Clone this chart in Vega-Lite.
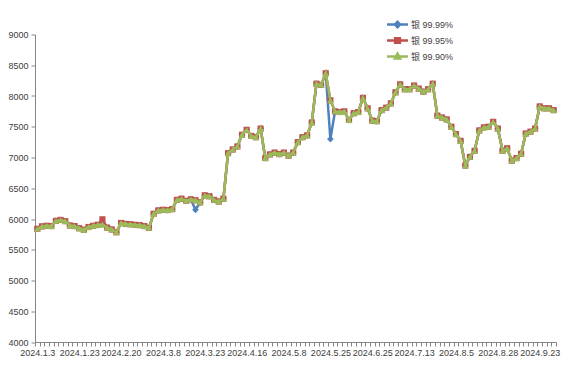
{
  "$schema": "https://vega.github.io/schema/vega-lite/v6.json",
  "width": 521,
  "height": 307.5,
  "autosize": {"type": "none"},
  "padding": {"left": 35, "top": 34.5, "right": 13, "bottom": 36},
  "background": "white",
  "config": {"view": {"stroke": null}, "font": "Liberation Sans"},
  "data": {"values": [
    {"d":"2024.1.3","a":5840,"b":5840,"c":5840},
    {"d":"2024.1.4","a":5880,"b":5880,"c":5880},
    {"d":"2024.1.5","a":5890,"b":5890,"c":5890},
    {"d":"2024.1.8","a":5885,"b":5885,"c":5885},
    {"d":"2024.1.10","a":5970,"b":5970,"c":5970},
    {"d":"2024.1.12","a":5985,"b":5985,"c":5985},
    {"d":"2024.1.16","a":5965,"b":5965,"c":5965},
    {"d":"2024.1.18","a":5895,"b":5895,"c":5895},
    {"d":"2024.1.22","a":5885,"b":5885,"c":5885},
    {"d":"2024.1.23","a":5850,"b":5850,"c":5850},
    {"d":"2024.1.25","a":5825,"b":5825,"c":5825},
    {"d":"2024.1.26","a":5870,"b":5870,"c":5870},
    {"d":"2024.1.29","a":5890,"b":5890,"c":5890},
    {"d":"2024.1.31","a":5905,"b":5905,"c":5905},
    {"d":"2024.2.1","a":5910,"b":5995,"c":5910},
    {"d":"2024.2.5","a":5860,"b":5860,"c":5860},
    {"d":"2024.2.7","a":5830,"b":5830,"c":5830},
    {"d":"2024.2.19","a":5785,"b":5785,"c":5785},
    {"d":"2024.2.20","a":5935,"b":5935,"c":5935},
    {"d":"2024.2.21","a":5920,"b":5920,"c":5920},
    {"d":"2024.2.23","a":5915,"b":5915,"c":5915},
    {"d":"2024.2.26","a":5905,"b":5905,"c":5905},
    {"d":"2024.2.27","a":5900,"b":5900,"c":5900},
    {"d":"2024.2.29","a":5885,"b":5885,"c":5885},
    {"d":"2024.3.1","a":5855,"b":5855,"c":5855},
    {"d":"2024.3.5","a":6085,"b":6085,"c":6085},
    {"d":"2024.3.6","a":6140,"b":6140,"c":6140},
    {"d":"2024.3.8","a":6150,"b":6150,"c":6150},
    {"d":"2024.3.11","a":6145,"b":6145,"c":6145},
    {"d":"2024.3.12","a":6160,"b":6160,"c":6160},
    {"d":"2024.3.13","a":6310,"b":6310,"c":6310},
    {"d":"2024.3.15","a":6330,"b":6330,"c":6330},
    {"d":"2024.3.18","a":6295,"b":6295,"c":6295},
    {"d":"2024.3.19","a":6320,"b":6320,"c":6320},
    {"d":"2024.3.20","a":6150,"b":6305,"c":6305},
    {"d":"2024.3.22","a":6270,"b":6270,"c":6270},
    {"d":"2024.3.23","a":6385,"b":6385,"c":6385},
    {"d":"2024.3.26","a":6370,"b":6370,"c":6370},
    {"d":"2024.3.27","a":6310,"b":6310,"c":6310},
    {"d":"2024.3.29","a":6285,"b":6285,"c":6285},
    {"d":"2024.4.1","a":6330,"b":6330,"c":6330},
    {"d":"2024.4.3","a":7070,"b":7070,"c":7070},
    {"d":"2024.4.8","a":7130,"b":7130,"c":7130},
    {"d":"2024.4.10","a":7180,"b":7180,"c":7180},
    {"d":"2024.4.12","a":7370,"b":7370,"c":7370},
    {"d":"2024.4.16","a":7450,"b":7450,"c":7450},
    {"d":"2024.4.17","a":7350,"b":7350,"c":7350},
    {"d":"2024.4.19","a":7330,"b":7330,"c":7330},
    {"d":"2024.4.22","a":7470,"b":7470,"c":7470},
    {"d":"2024.4.24","a":6990,"b":6990,"c":6990},
    {"d":"2024.4.26","a":7050,"b":7050,"c":7050},
    {"d":"2024.4.28","a":7080,"b":7080,"c":7080},
    {"d":"2024.4.30","a":7055,"b":7055,"c":7055},
    {"d":"2024.5.6","a":7080,"b":7080,"c":7080},
    {"d":"2024.5.8","a":7030,"b":7030,"c":7030},
    {"d":"2024.5.9","a":7080,"b":7080,"c":7080},
    {"d":"2024.5.11","a":7250,"b":7250,"c":7250},
    {"d":"2024.5.14","a":7330,"b":7330,"c":7330},
    {"d":"2024.5.15","a":7360,"b":7360,"c":7360},
    {"d":"2024.5.16","a":7570,"b":7570,"c":7570},
    {"d":"2024.5.17","a":8200,"b":8200,"c":8200},
    {"d":"2024.5.20","a":8180,"b":8180,"c":8180},
    {"d":"2024.5.22","a":8370,"b":8370,"c":8370},
    {"d":"2024.5.25","a":7300,"b":7930,"c":7930},
    {"d":"2024.5.28","a":7750,"b":7750,"c":7750},
    {"d":"2024.5.30","a":7740,"b":7740,"c":7740},
    {"d":"2024.6.3","a":7750,"b":7750,"c":7750},
    {"d":"2024.6.5","a":7610,"b":7610,"c":7610},
    {"d":"2024.6.7","a":7720,"b":7720,"c":7720},
    {"d":"2024.6.12","a":7740,"b":7740,"c":7740},
    {"d":"2024.6.17","a":7970,"b":7970,"c":7970},
    {"d":"2024.6.20","a":7800,"b":7800,"c":7800},
    {"d":"2024.6.25","a":7600,"b":7600,"c":7600},
    {"d":"2024.6.27","a":7590,"b":7590,"c":7590},
    {"d":"2024.6.28","a":7770,"b":7770,"c":7770},
    {"d":"2024.7.1","a":7810,"b":7810,"c":7810},
    {"d":"2024.7.2","a":7880,"b":7880,"c":7880},
    {"d":"2024.7.4","a":8060,"b":8060,"c":8060},
    {"d":"2024.7.5","a":8190,"b":8190,"c":8190},
    {"d":"2024.7.9","a":8110,"b":8110,"c":8110},
    {"d":"2024.7.11","a":8110,"b":8110,"c":8110},
    {"d":"2024.7.13","a":8170,"b":8170,"c":8170},
    {"d":"2024.7.15","a":8120,"b":8120,"c":8120},
    {"d":"2024.7.17","a":8070,"b":8070,"c":8070},
    {"d":"2024.7.19","a":8110,"b":8110,"c":8110},
    {"d":"2024.7.22","a":8200,"b":8200,"c":8200},
    {"d":"2024.7.24","a":7680,"b":7680,"c":7680},
    {"d":"2024.7.26","a":7650,"b":7650,"c":7650},
    {"d":"2024.7.30","a":7620,"b":7620,"c":7620},
    {"d":"2024.8.1","a":7500,"b":7500,"c":7500},
    {"d":"2024.8.5","a":7380,"b":7380,"c":7380},
    {"d":"2024.8.7","a":7270,"b":7270,"c":7270},
    {"d":"2024.8.8","a":6870,"b":6870,"c":6870},
    {"d":"2024.8.12","a":7010,"b":7010,"c":7010},
    {"d":"2024.8.14","a":7110,"b":7110,"c":7110},
    {"d":"2024.8.16","a":7440,"b":7440,"c":7440},
    {"d":"2024.8.20","a":7490,"b":7490,"c":7490},
    {"d":"2024.8.22","a":7500,"b":7500,"c":7500},
    {"d":"2024.8.26","a":7580,"b":7580,"c":7580},
    {"d":"2024.8.28","a":7470,"b":7470,"c":7470},
    {"d":"2024.8.30","a":7110,"b":7110,"c":7110},
    {"d":"2024.9.2","a":7150,"b":7150,"c":7150},
    {"d":"2024.9.4","a":6950,"b":6950,"c":6950},
    {"d":"2024.9.6","a":6990,"b":6990,"c":6990},
    {"d":"2024.9.10","a":7060,"b":7060,"c":7060},
    {"d":"2024.9.12","a":7390,"b":7390,"c":7390},
    {"d":"2024.9.18","a":7420,"b":7420,"c":7420},
    {"d":"2024.9.20","a":7470,"b":7470,"c":7470},
    {"d":"2024.9.23","a":7830,"b":7830,"c":7830},
    {"d":"2024.9.25","a":7800,"b":7800,"c":7800},
    {"d":"2024.9.27","a":7800,"b":7800,"c":7800},
    {"d":"2024.9.30","a":7770,"b":7770,"c":7770}
  ]},
  "transform": [{"fold": ["a", "b", "c"], "as": ["s", "v"]}],
  "encoding": {
    "x": {
      "field": "d", "type": "ordinal", "sort": null, "bandPosition": 0.5,
      "scale": {"type": "band", "paddingInner": 0, "paddingOuter": 0},
      "axis": {
        "title": null, "labelAngle": 0, "labelOverlap": false, "labelBound": false, "labelFlush": false,
        "labelExpr": "indexof(['2024.1.3','2024.1.23','2024.2.20','2024.3.8','2024.3.23','2024.4.16','2024.5.8','2024.5.25','2024.6.25','2024.7.13','2024.8.5','2024.8.28','2024.9.23'], datum.value) >= 0 ? datum.value : ''",
        "labelFontSize": 9, "labelColor": "#404040", "labelPadding": 2,
        "domainColor": "#868686", "tickColor": "#868686", "tickSize": 4, "tickBand": "extent", "grid": false
      }
    },
    "y": {
      "field": "v", "type": "quantitative",
      "scale": {"domain": [4000, 9000], "nice": false, "zero": false},
      "axis": {
        "title": null, "values": [4000, 4500, 5000, 5500, 6000, 6500, 7000, 7500, 8000, 8500, 9000],
        "format": "d",
        "labelFontSize": 9, "labelColor": "#404040", "labelPadding": 3,
        "domainColor": "#868686", "tickColor": "#868686", "tickSize": 4, "grid": false
      }
    },
    "color": {
      "field": "s", "type": "nominal",
      "scale": {"domain": ["a", "b", "c"], "range": ["#4F81BD", "#C0504D", "#9BBB59"]},
      "legend": {
        "title": null, "orient": "none", "legendX": 356, "legendY": -16.5,
        "labelExpr": "datum.value == 'a' ? '银 99.99%' : datum.value == 'b' ? '银 99.95%' : '银 99.90%'",
        "labelFont": "Liberation Sans, Noto Sans CJK SC", "labelFontSize": 9, "labelColor": "#404040",
        "symbolSize": 110, "symbolStrokeWidth": 2.5, "rowPadding": 0, "labelOffset": 7,
        "encode": {
          "symbols": {
            "update": {
              "shape": {"signal": "datum.value == 'a' ? 'M-2,0H2M0,-0.5L0.5,0L0,0.5L-0.5,0Z' : datum.value == 'b' ? 'M-2,0H2M-0.45,-0.45H0.45V0.45H-0.45Z' : 'M-2,0H2M0,-0.55L0.5,0.38H-0.5Z'"},
              "fill": {"scale": "color", "field": "value"},
              "stroke": {"scale": "color", "field": "value"},
              "opacity": {"value": 1},
              "fillOpacity": {"value": 1}
            }
          }
        }
      }
    }
  },
  "layer": [
    {"transform": [{"filter": "datum.s == 'a'"}], "mark": {"type": "line", "strokeWidth": 2.5}},
    {"transform": [{"filter": "datum.s == 'a'"}], "mark": {"type": "point", "shape": "diamond", "filled": true, "size": 45, "opacity": 1}},
    {"transform": [{"filter": "datum.s == 'b'"}], "mark": {"type": "line", "strokeWidth": 2.5}},
    {"transform": [{"filter": "datum.s == 'b'"}], "mark": {"type": "point", "shape": "square", "filled": true, "size": 38, "opacity": 1}},
    {"transform": [{"filter": "datum.s == 'c'"}], "mark": {"type": "line", "strokeWidth": 2.5}},
    {"transform": [{"filter": "datum.s == 'c'"}], "mark": {"type": "point", "shape": "triangle-up", "filled": true, "size": 45, "opacity": 1}}
  ]
}
